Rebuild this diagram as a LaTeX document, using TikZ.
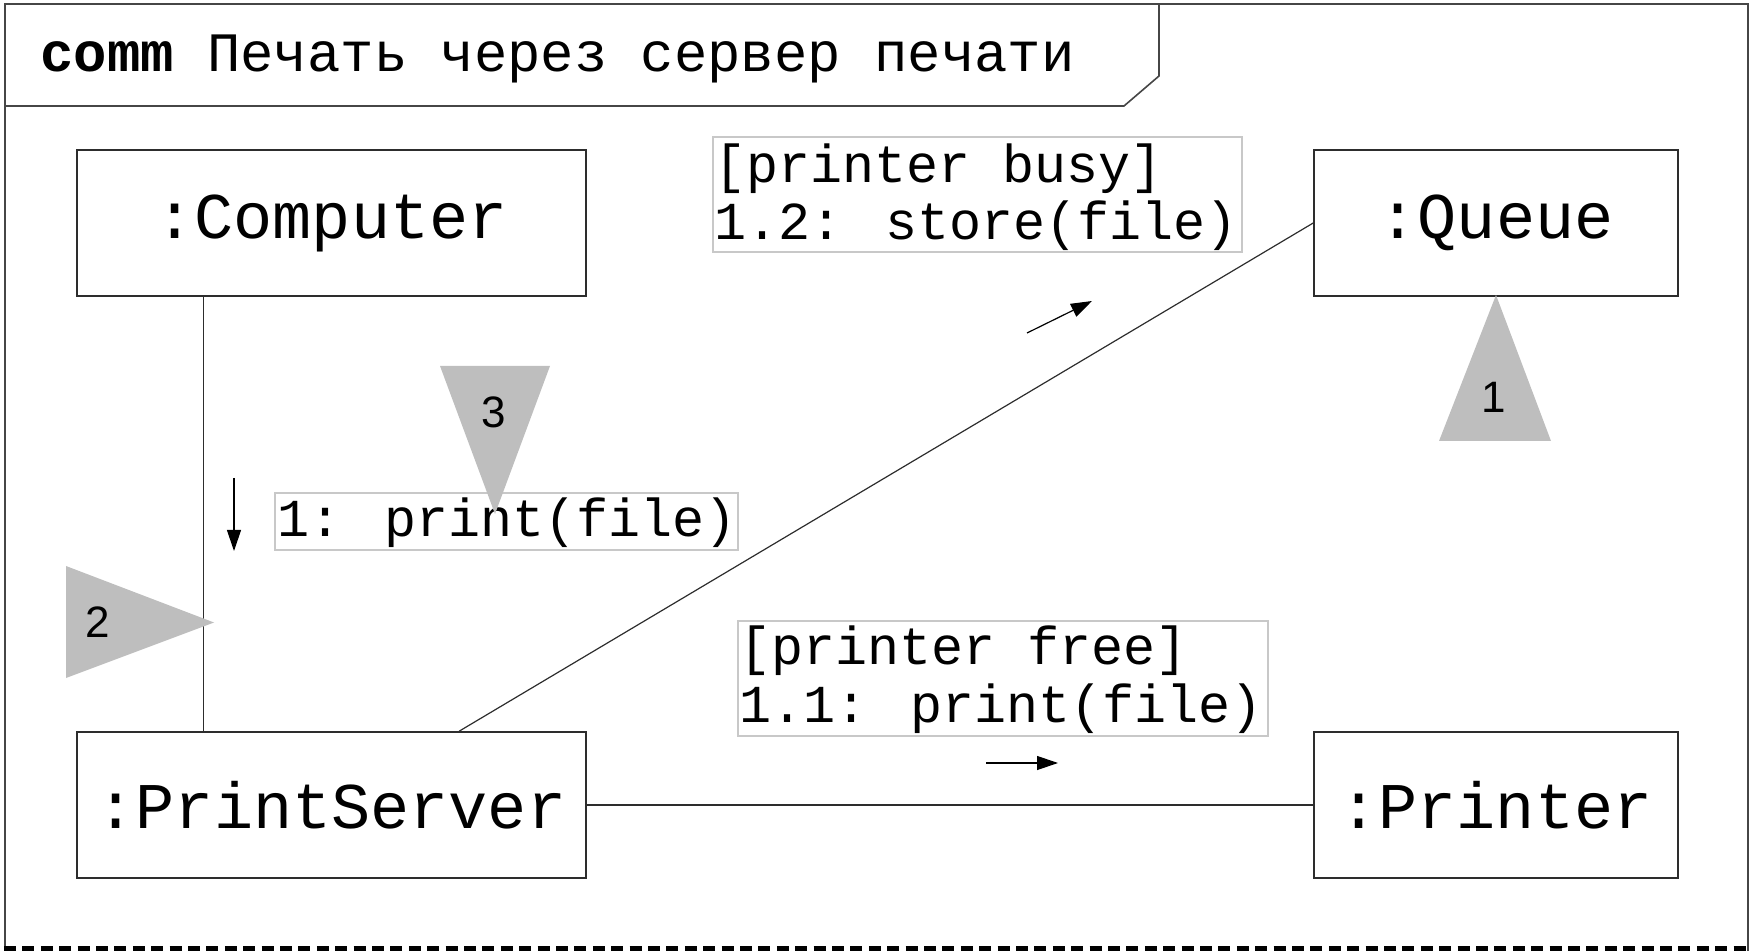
\documentclass[tikz,border=0pt]{standalone}
\usepackage{fontspec}
\setmainfont{Liberation Mono}
\newfontfamily\monofont{Liberation Mono}
\newfontfamily\digitfont{Liberation Sans}
\usetikzlibrary{arrows.meta,calc}
\definecolor{frameline}{RGB}{70,70,70}
\definecolor{boxline}{RGB}{45,45,45}
\definecolor{msgline}{RGB}{200,200,200}
\definecolor{markfill}{RGB}{190,190,190}
\begin{document}
\begin{tikzpicture}[x=0.5pt,y=-0.5pt,
  objbox/.style={draw=boxline, line width=0.8pt, minimum height=73pt, inner sep=0pt,
    font=\monofont\fontsize{32.6pt}{36pt}\selectfont},
  msgtext/.style={anchor=base west, inner sep=0pt,
    font=\monofont\fontsize{26.7pt}{30pt}\selectfont},
  msgframe/.style={draw=msgline, line width=0.6pt},
  link/.style={draw=boxline, line width=0.6pt},
  msgarrow/.style={draw=black, line width=0.6pt, -{Triangle[length=10.5pt,width=7pt]}},
  marker/.style={fill=markfill, draw=none},
  marknum/.style={inner sep=0pt, font=\digitfont\fontsize{22pt}{24pt}\selectfont}
]
\useasboundingbox (0,0) rectangle (1750,951);

% outer frame and title tab
\draw[frameline, line width=0.8pt] (5,951) -- (5,4) -- (1748,4) -- (1748,951);
\draw[frameline, line width=0.8pt] (5,106) -- (1124,106) -- (1159,76) -- (1159,4);
\draw[black, line width=2.5pt, dash pattern=on 6pt off 3.2pt] (4,948.5) -- (1750,948.5);
\node[anchor=base west, inner sep=0pt, font=\fontsize{27.8pt}{30pt}\selectfont] (title) at (40,72)
  {{\bfseries comm} Печать через сервер печати};

% objects
\node[objbox, minimum width=254.5pt] (comp) at (331.5,223) {:Computer};
\node[objbox, minimum width=182pt] (queue) at (1496,223) {:Queue};
\node[objbox, minimum width=254.5pt] (ps) at (331.5,805) {:PrintServer};
\node[objbox, minimum width=182pt] (pr) at (1496,805) {:Printer};

% links
\draw[link] ($(comp.south west)!0.25!(comp.south east)$) -- ($(ps.north west)!0.25!(ps.north east)$);
\draw[link] ($(ps.north west)!0.75!(ps.north east)$) -- (queue.west);
\draw[link] (ps.east) -- (pr.west);

% messages
\draw[msgframe] (713,137) rectangle (1242,252);
\node[msgtext] (m12a) at (714,183) {[printer busy]};
\node[msgtext] (m12b) at (714,240) {1.2: store(file)};

\draw[msgframe] (275,493) rectangle (738,550);
\node[msgtext] (m1) at (277,537) {1: print(file)};

\draw[msgframe] (738,621) rectangle (1268,736);
\node[msgtext] (m11a) at (739,664) {[printer free]};
\node[msgtext] (m11b) at (739,722) {1.1: print(file)};

% message arrows
\coordinate (a1s) at (234,478);
\coordinate (a1e) at (234,551);
\draw[msgarrow] (a1s) -- (a1e);
\coordinate (a2s) at (1027,333);
\coordinate (a2e) at (1092,301);
\draw[msgarrow] (a2s) -- (a2e);
\coordinate (a3s) at (986,763);
\coordinate (a3e) at (1058,763);
\draw[msgarrow] (a3s) -- (a3e);

% markers
\fill[marker] (1496,295) -- (1551,441) -- (1439,441) -- cycle;
\node[marknum] (n1) at (1494,397) {1};
\fill[marker] (66,566) -- (214,622.5) -- (66,678) -- cycle;
\node[marknum] (n2) at (98,622) {2};
\fill[marker] (440,366) -- (550,366) -- (495,514) -- cycle;
\node[marknum] (n3) at (494,412) {3};
\end{tikzpicture}
\end{document}
